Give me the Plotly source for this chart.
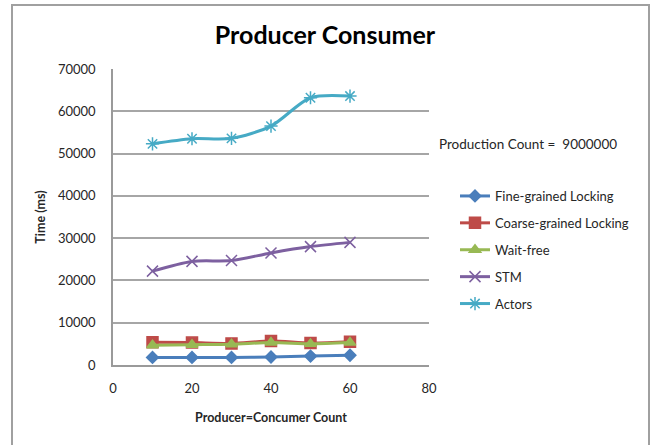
import plotly.graph_objects as go

counts = [10, 20, 30, 40, 50, 60]
fine = [1800, 1800, 1800, 1900, 2100, 2300]
coarse = [5400, 5300, 5100, 5700, 5200, 5500]
waitfree = [4700, 4800, 4900, 5300, 5000, 5300]
stm = [22200, 24500, 24700, 26500, 28000, 29000]
actors = [52300, 53500, 53600, 56500, 63200, 63600]

names = ["Fine-grained Locking", "Coarse-grained Locking", "Wait-free", "STM", "Actors"]
series = [fine, coarse, waitfree, stm, actors]
colors = ["#4A7EBB", "#BE4B48", "#98B954", "#7D60A0", "#46AAC5"]
symbols = ["diamond", "square", "triangle-up", "x-thin-open", "asterisk-open"]
msizes = [9, 11, 10, 11, 11]

fig = go.Figure()
for n, s, c, sym, ms in zip(names, series, colors, symbols, msizes):
    fig.add_trace(go.Scatter(
        x=counts, y=s, name=n, mode="lines+markers",
        line=dict(color=c, width=3, shape="spline", smoothing=0.8),
        marker=dict(symbol=sym, size=ms, color=c, line=dict(color=c, width=1.5)),
        legendgroup=n,
    ))

L, R, T, B = 113, 221, 69, 80
W, H = 650, 445
pw, ph = W - L - R, H - T - B

def px(x):
    return (x - L) / pw

def py(y):
    return (H - B - y) / ph

fig.update_layout(
    width=W, height=H,
    margin=dict(l=L, r=R, t=T, b=B),
    paper_bgcolor="white", plot_bgcolor="white",
    font=dict(family="Lato, Open Sans, sans-serif", size=12, color="#262626"),
    title=dict(text="<b>Producer Consumer</b>", x=0.5, xanchor="center", y=1 - 35 / H, yanchor="middle",
               font=dict(size=25, color="black")),
    xaxis=dict(range=[0, 80], tickvals=[0, 20, 40, 60, 80], showgrid=False, zeroline=False,
               showline=True, linecolor="#9A9A9A", linewidth=1.5, ticks="", ticklabelstandoff=11,
               tickfont=dict(size=13), title=dict(text="<b>Producer=Concumer Count</b>", font=dict(size=12.5), standoff=18)),
    yaxis=dict(range=[0, 70000], tickvals=list(range(0, 70001, 10000)), tickformat="d", showgrid=True,
               gridcolor="#A6A6A6", gridwidth=1.5, zeroline=False, showline=True, linecolor="#9A9A9A", linewidth=1.5,
               ticks="", ticklabelstandoff=13,
               tickfont=dict(size=13), title=dict(text="<b>Time (ms)</b>", font=dict(size=12.5), standoff=10)),
    legend=dict(x=px(455), y=py(181), xanchor="left", yanchor="top", font=dict(size=13),
                tracegroupgap=7, bgcolor="rgba(0,0,0,0)", itemwidth=30),
    showlegend=True,
)

fig.add_annotation(text="Production Count =  9000000", x=px(437), y=py(144), xref="paper", yref="paper",
                   xanchor="left", yanchor="middle", showarrow=False, font=dict(size=13.5, color="#262626"))

fig.add_shape(type="rect", xref="paper", yref="paper", x0=px(12), x1=px(649), y0=py(452), y1=py(5),
              line=dict(color="#A0A0A0", width=2), layer="below")

fig.write_html("out.html")
